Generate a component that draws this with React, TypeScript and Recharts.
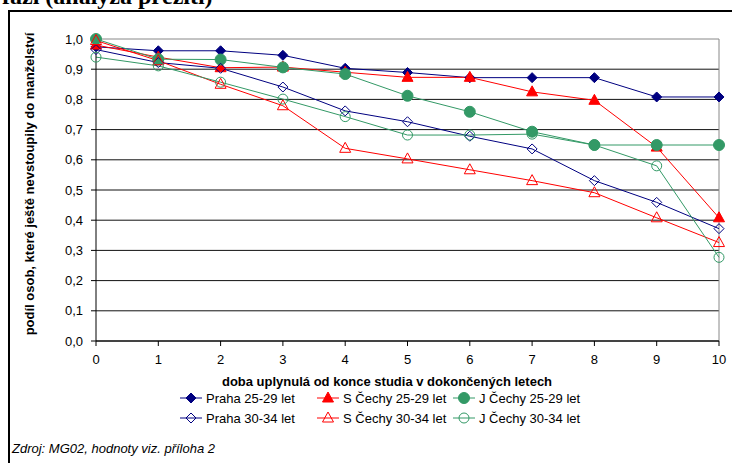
import React from "react";
import {
  LineChart,
  Line,
  XAxis,
  YAxis,
  CartesianGrid,
  ReferenceLine,
} from "recharts";

const years = [0, 1, 2, 3, 4, 5, 6, 7, 8, 9, 10];
const yTicks = [0, 0.1, 0.2, 0.3, 0.4, 0.5, 0.6, 0.7, 0.8, 0.9, 1.0];

const praha2529 = [0.974, 0.961, 0.961, 0.946, 0.903, 0.889, 0.872, 0.872, 0.872, 0.808, 0.808];
const sCechy2529 = [0.98, 0.94, 0.905, 0.907, 0.89, 0.873, 0.873, 0.825, 0.797, 0.642, 0.408];
const jCechy2529 = [1.0, 0.933, 0.932, 0.906, 0.884, 0.812, 0.759, 0.693, 0.649, 0.649, 0.649];
const praha3034 = [0.965, 0.922, 0.903, 0.841, 0.762, 0.726, 0.678, 0.636, 0.531, 0.459, 0.372];
const sCechy3034 = [0.995, 0.928, 0.85, 0.779, 0.638, 0.603, 0.567, 0.531, 0.491, 0.408, 0.326];
const jCechy3034 = [0.94, 0.911, 0.857, 0.801, 0.743, 0.682, 0.682, 0.685, 0.649, 0.58, 0.277];

const NAVY = "#000080";
const RED = "#ff0000";
const GREEN = "#339966";
const FONT = "'Liberation Sans', Arial, sans-serif";

const data = years.map((y, i) => ({
  year: y,
  p1: praha2529[i],
  s1: sCechy2529[i],
  j1: jCechy2529[i],
  p2: praha3034[i],
  s2: sCechy3034[i],
  j2: jCechy3034[i],
}));

type Shape = "diamond" | "triangle" | "circle";

function Marker({ cx, cy, shape, color, filled }: { cx: number; cy: number; shape: Shape; color: string; filled: boolean }) {
  const common = { fill: filled ? color : "none", stroke: color, strokeWidth: 1 };
  if (shape === "diamond") {
    return <path d={`M${cx},${cy - 5} L${cx + 5},${cy} L${cx},${cy + 5} L${cx - 5},${cy} Z`} {...common} />;
  }
  if (shape === "triangle") {
    return <path d={`M${cx},${cy - 6} L${cx + 5.5},${cy + 4} L${cx - 5.5},${cy + 4} Z`} {...common} />;
  }
  return <circle cx={cx} cy={cy} r={filled ? 5.5 : 5} {...common} />;
}

const makeDot = (shape: Shape, color: string, filled: boolean) => (props: any) => (
  <Marker key={props.index} cx={props.cx} cy={props.cy} shape={shape} color={color} filled={filled} />
);

const series = [
  { key: "p1", name: "Praha 25-29 let", color: NAVY, shape: "diamond" as Shape, filled: true },
  { key: "s1", name: "S Čechy 25-29 let", color: RED, shape: "triangle" as Shape, filled: true },
  { key: "j1", name: "J Čechy 25-29 let", color: GREEN, shape: "circle" as Shape, filled: true },
  { key: "p2", name: "Praha 30-34 let", color: NAVY, shape: "diamond" as Shape, filled: false },
  { key: "s2", name: "S Čechy 30-34 let", color: RED, shape: "triangle" as Shape, filled: false },
  { key: "j2", name: "J Čechy 30-34 let", color: GREEN, shape: "circle" as Shape, filled: false },
];

const fmt = (v: number) => v.toFixed(1).replace(".", ",");

function LegendItem({ s, x, y }: { s: (typeof series)[number]; x: number; y: number }) {
  return (
    <div style={{ position: "absolute", left: x, top: y - 10, height: 20, display: "flex", alignItems: "center" }}>
      <svg width={24} height={20} style={{ marginRight: 2 }}>
        <line x1={0} y1={10} x2={22} y2={10} stroke={s.color} strokeWidth={1} />
        <Marker cx={11} cy={10} shape={s.shape} color={s.color} filled={s.filled} />
      </svg>
      <span style={{ fontSize: 13, fontFamily: FONT, color: "#000", whiteSpace: "nowrap" }}>{s.name}</span>
    </div>
  );
}

export default function App() {
  const legendCols = [180, 317, 453];
  const legendRows = [398, 418];
  return (
    <div style={{ position: "absolute", left: 0, top: 0, width: 732, height: 463, overflow: "hidden", background: "#fff" }}>
      <style>{`html, body { margin: 0; overflow: hidden; }`}</style>
      <div
        style={{
          position: "absolute",
          left: 2,
          top: -17,
          fontFamily: "'Liberation Serif', 'Times New Roman', serif",
          fontWeight: "bold",
          fontSize: 24,
          whiteSpace: "nowrap",
        }}
      >
        fázi (analýza přežití)
      </div>
      {/* frame: only top and left edges are inside the picture */}
      <div style={{ position: "absolute", left: 8, top: 10, width: 724, height: 2, background: "#000" }} />
      <div style={{ position: "absolute", left: 8, top: 10, width: 2, height: 453, background: "#000" }} />

      <div style={{ position: "absolute", left: 0, top: 0 }}>
        <LineChart width={732} height={463} data={data} margin={{ top: 39, right: 13, left: 0, bottom: 92 }}>
          <CartesianGrid horizontal vertical={false} stroke="#111" horizontalValues={yTicks.slice(0, 10)} />
          <XAxis
            dataKey="year"
            type="number"
            domain={[0, 10]}
            ticks={years}
            height={30}
            stroke="#000"
            tickSize={5}
            tickMargin={9}
            tick={{ fill: "#000", fontSize: 13, fontFamily: FONT }}
            interval={0}
          />
          <YAxis
            type="number"
            domain={[0, 1]}
            ticks={yTicks}
            width={96}
            stroke="#000"
            tickSize={5}
            tickMargin={8}
            tickFormatter={fmt}
            tick={{ fill: "#000", fontSize: 13, fontFamily: FONT }}
            interval={0}
          />
          <ReferenceLine y={1} stroke="#888" />
          <ReferenceLine x={10} stroke="#888" />
          {series.map((s) => (
            <Line
              key={s.key}
              dataKey={s.key}
              name={s.name}
              type="linear"
              stroke={s.color}
              strokeWidth={1}
              dot={makeDot(s.shape, s.color, s.filled)}
              activeDot={false}
              isAnimationActive={false}
            />
          ))}
        </LineChart>
      </div>

      <div
        style={{
          position: "absolute",
          left: 29,
          top: 184,
          transform: "translate(-50%, -50%) rotate(-90deg)",
          fontFamily: FONT,
          fontWeight: "bold",
          fontSize: 13,
          whiteSpace: "nowrap",
        }}
      >
        podíl osob, které ještě nevstoupily do manželství
      </div>
      <div
        style={{
          position: "absolute",
          left: 387,
          top: 381,
          transform: "translate(-50%, -50%)",
          fontFamily: FONT,
          fontWeight: "bold",
          fontSize: 13,
          whiteSpace: "nowrap",
        }}
      >
        doba uplynulá od konce studia v dokončených letech
      </div>

      {series.map((s, i) => (
        <LegendItem key={s.key} s={s} x={legendCols[i % 3]} y={legendRows[Math.floor(i / 3)]} />
      ))}

      <div
        style={{
          position: "absolute",
          left: 12,
          top: 441,
          fontFamily: FONT,
          fontStyle: "italic",
          fontSize: 13,
          whiteSpace: "nowrap",
        }}
      >
        Zdroj: MG02, hodnoty viz. příloha 2
      </div>
    </div>
  );
}
